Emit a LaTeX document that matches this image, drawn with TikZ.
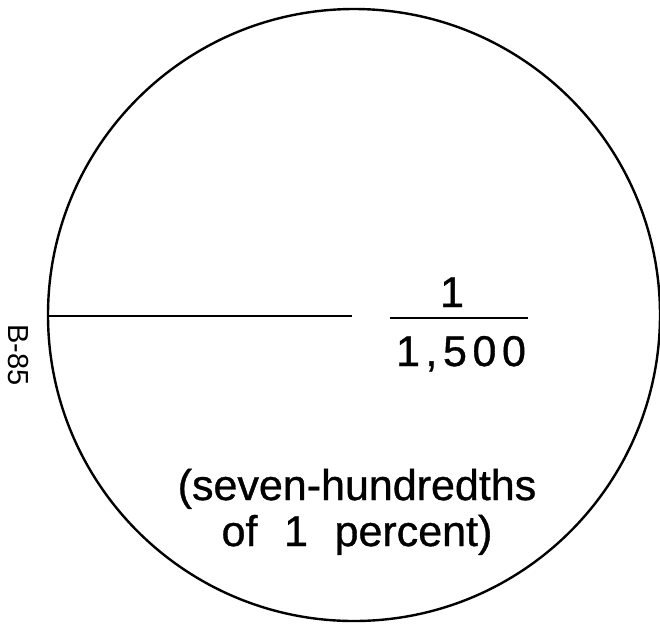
\documentclass[tikz,border=0pt]{standalone}
\usepackage{fontspec}
\setmainfont{Liberation Sans}
\usetikzlibrary{positioning}

\begin{document}
\begin{tikzpicture}[
  x=1pt, y=1pt,
  rim/.style={circle, draw, line width=2.4pt, minimum size=612pt, inner sep=0pt},
  rule/.style={line width=1.1pt},
  big/.style={font=\fontsize{43}{44}\selectfont\addfontfeature{FakeBold=0.8}, inner sep=0pt},
  wide/.style={font=\fontsize{43}{44}\selectfont\addfontfeature{LetterSpace=13,FakeBold=0.8}, inner sep=0pt},
  tag/.style={font=\fontsize{29}{30}\selectfont, inner sep=0pt, rotate=-90}
]
\useasboundingbox (0,0) rectangle (660,-625);

% the disc and its radius
\node[rim] (disc) at (354,-315) {};
\coordinate (radend) at (352,-316);
\draw[rule] (disc.west |- radend) -- (radend);

% fraction
\node[big, anchor=base] (num) at (452,-307) {1};
\node[wide, anchor=base] (den) at (461,-366) {1,500};
\coordinate (barl) at (390,-318);
\coordinate (barr) at (528,-318);
\draw[line width=1.4pt] (barl) -- (barr);

% caption
\node[big, anchor=base] (cap1) at (357,-500) {(seven-hundredths};
\node[big, below=46pt of cap1.base, anchor=base] (cap2) {of\hspace{0.62em}1\hspace{0.62em}percent)};

% page number
\node[tag] (page) at (18,-355) {B-85};
\end{tikzpicture}
\end{document}
